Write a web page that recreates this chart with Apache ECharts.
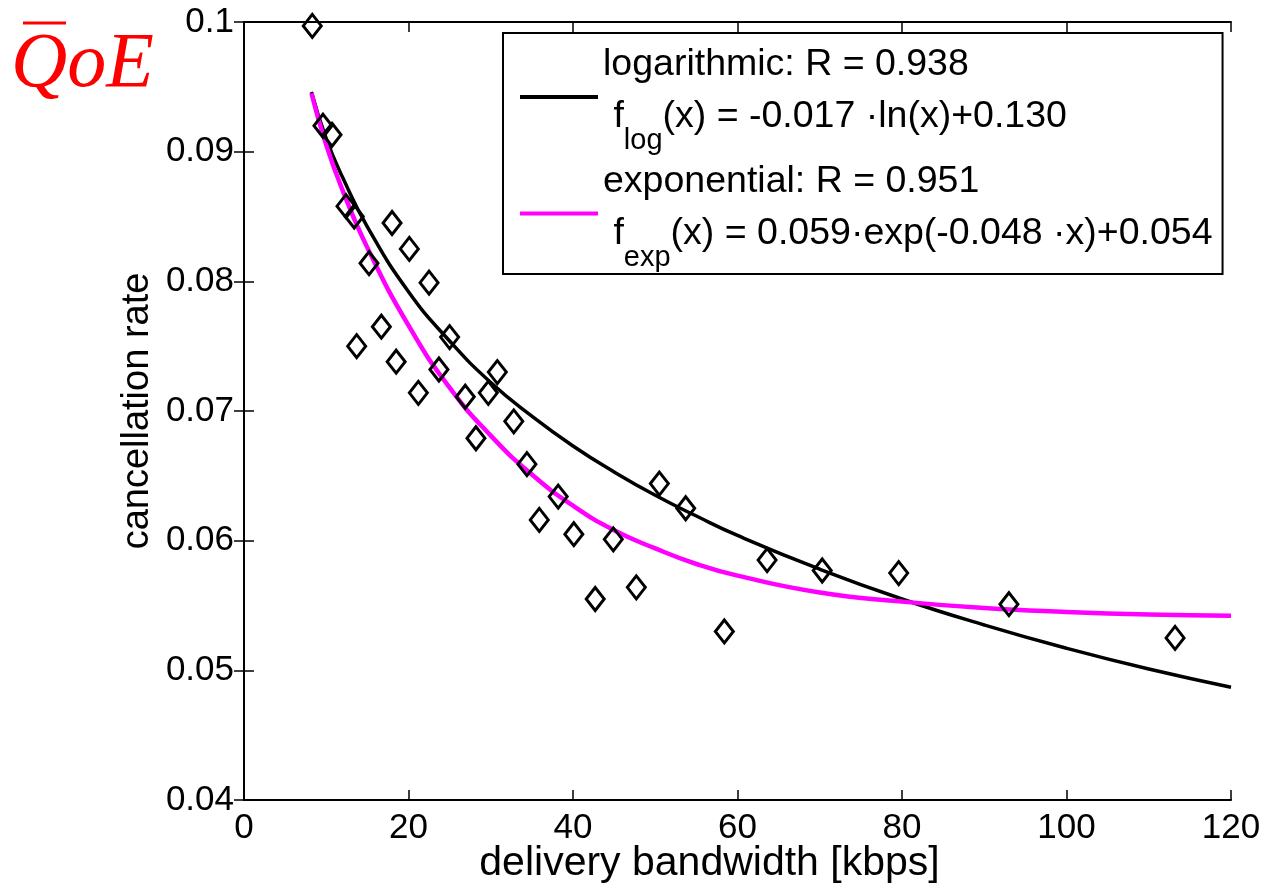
<!DOCTYPE html>
<html>
<head>
<meta charset="utf-8">
<script src="https://cdn.jsdelivr.net/npm/echarts@6/dist/echarts.min.js"></script>
<style>
  html, body { margin: 0; padding: 0; background: #fff; }
  #main { width: 1266px; height: 891px; }
</style>
</head>
<body>
<div id="main"></div>
<script>
// measured points (delivery bandwidth kbps, cancellation rate)
let bwX = [8.3, 9.6, 10.7, 12.4, 13.4, 13.7, 15.2, 16.7, 18.0, 18.5, 20.1, 21.2, 22.5, 23.7, 25.0,
           26.9, 28.2, 29.7, 30.8, 32.8, 34.4, 35.9, 38.2, 40.1, 42.7, 44.9, 47.7, 50.5, 53.7,
           58.4, 63.6, 70.3, 79.6, 93.0, 113.2]
let rateY = [0.0997, 0.0920, 0.0913, 0.0858, 0.0850, 0.0750, 0.0814, 0.0765, 0.0845, 0.0738, 0.0825,
             0.0714, 0.0799, 0.0732, 0.0757, 0.0711, 0.0679, 0.0714, 0.0730, 0.0692, 0.0659, 0.0616,
             0.0634, 0.0605, 0.0555, 0.0601, 0.0564, 0.0644, 0.0625, 0.0530, 0.0585, 0.0577, 0.0575,
             0.0551, 0.0525]

// fitted curves
let fitX   = [8.2, 10, 12, 15, 20, 25, 30, 35, 40, 45, 50, 55, 60, 70, 80, 90, 100, 110, 120]
let logY   = [0.0946, 0.0910, 0.0880, 0.0842, 0.0792, 0.0754, 0.0722, 0.0696, 0.0673, 0.0653,
              0.0635, 0.0619, 0.0604, 0.0578, 0.0555, 0.0535, 0.0517, 0.0501, 0.0487]
let expY   = [0.0945, 0.0905, 0.0870, 0.0826, 0.0766, 0.0718, 0.0681, 0.0651, 0.0627, 0.0608,
              0.0594, 0.0582, 0.0573, 0.0560, 0.0553, 0.0548, 0.0545, 0.0543, 0.0542]

let legendText = {
    log: ['logarithmic: R = 0.938', [' f', 'log', '(x) = -0.017 \u00b7ln(x)+0.130']],
    exp: ['exponential: R = 0.951', [' f', 'exp', '(x) = 0.059\u00b7exp(-0.048 \u00b7x)+0.054']]
}

let font = 'Liberation Sans'

function pairs(xs, ys) {
    let out = []
    xs.forEach(function (v, i) { out.push([v, ys[i]]) })
    return out
}

let myChart = echarts.init(document.getElementById('main'))

let hiddenAxis = {
    axisLine: {show: true, lineStyle: {color: '#000', width: 2}},
    axisTick: {show: true, inside: true, length: 10, lineStyle: {color: '#000', width: 1.5}},
    axisLabel: {show: false},
    splitLine: {show: false}
}

let option = {
    backgroundColor: '#fff',
    animation: false,
    grid: {left: 244, top: 22, right: 35, bottom: 91, outerBoundsMode: 'none', containLabel: false},
    xAxis: [{
        type: 'value', min: 0, max: 120, interval: 20, position: 'bottom',
        name: 'delivery bandwidth [kbps]',
        nameLocation: 'middle', nameGap: 43, nameMoveOverlap: false,
        nameTextStyle: {fontFamily: font, fontSize: 41, color: '#000', padding: [0, 56, 0, 0]},
        axisLine: {show: true, onZero: false, lineStyle: {color: '#000', width: 2}},
        axisTick: {show: true, inside: true, length: 10, lineStyle: {color: '#000', width: 1.5}},
        axisLabel: {fontFamily: font, fontSize: 35, color: '#000', margin: 11},
        splitLine: {show: false}
    }, Object.assign({type: 'value', min: 0, max: 120, interval: 20, position: 'top'}, hiddenAxis)],
    yAxis: [{
        type: 'value', min: 0.04, max: 0.1, interval: 0.01, position: 'left',
        name: 'cancellation rate',
        nameLocation: 'middle', nameGap: 87, nameMoveOverlap: false,
        nameTextStyle: {fontFamily: font, fontSize: 38, color: '#000'},
        axisLine: {show: true, onZero: false, lineStyle: {color: '#000', width: 2}},
        axisTick: {show: true, inside: true, length: 10, lineStyle: {color: '#000', width: 1.5}},
        axisLabel: {
            fontFamily: font, fontSize: 35, color: '#000', margin: 10,
            formatter: function (v) { return String(Number(v.toFixed(2))) }
        },
        splitLine: {show: false}
    }, Object.assign({type: 'value', min: 0.04, max: 0.1, interval: 0.01, position: 'right'}, hiddenAxis)],
    legend: {
        data: ['log', 'exp'],
        orient: 'vertical',
        left: 503, top: 33,
        padding: [6, 10, 2, 17],
        itemGap: 0,
        icon: 'rect',
        itemWidth: 78, itemHeight: 4,
        backgroundColor: '#fff',
        borderColor: '#000', borderWidth: 2,
        textStyle: {
            fontFamily: font, fontSize: 37.5, color: '#000', lineHeight: 52,
            rich: {
                s: {fontFamily: font, fontSize: 29, lineHeight: 26, color: '#000', padding: [48, 0, 0, 0]},
                e: {fontSize: 1, lineHeight: 12}
            }
        },
        formatter: function (name) {
            let t = legendText[name]
            return t[0] + '\n' + t[1][0] + '{s|' + t[1][1] + '}' + t[1][2] + '\n{e| }'
        }
    },
    graphic: [
        {
            type: 'text', left: 11, top: 26,
            style: {text: 'QoE', fill: '#ff0000', font: 'italic 78px "Liberation Serif"'}
        },
        {
            type: 'line',
            shape: {x1: 23, y1: 23, x2: 66, y2: 23},
            style: {stroke: '#ff0000', lineWidth: 3}
        }
    ],
    series: [
        {
            name: 'log', type: 'line', data: pairs(fitX, logY),
            smooth: 0.5, symbol: 'none',
            lineStyle: {color: '#000', width: 3.5},
            itemStyle: {color: '#000'},
            z: 2
        },
        {
            name: 'exp', type: 'line', data: pairs(fitX, expY),
            smooth: 0.5, symbol: 'none',
            lineStyle: {color: '#ff00ff', width: 4.5},
            itemStyle: {color: '#ff00ff'},
            z: 3
        },
        {
            name: 'data', type: 'scatter', data: pairs(bwX, rateY),
            symbol: 'diamond', symbolSize: [18, 23],
            itemStyle: {color: 'rgba(0,0,0,0)', borderColor: '#000', borderWidth: 3, opacity: 1},
            z: 4
        }
    ]
}
myChart.setOption(option)
</script>
</body>
</html>
